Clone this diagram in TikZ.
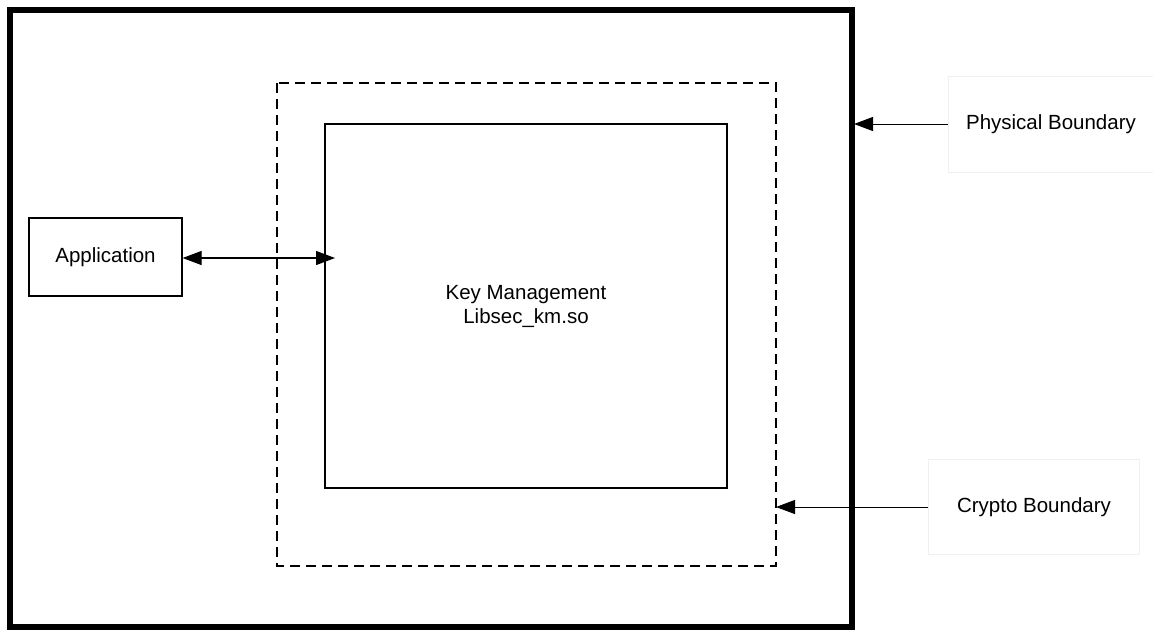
\documentclass[tikz,border=0pt]{standalone}
\usepackage{fontspec}
\setmainfont{Liberation Sans}
\usetikzlibrary{arrows.meta}
\begin{document}
\begin{tikzpicture}[x=1pt,y=-1pt,
  lbl/.style={font=\fontsize{20.5}{24}\selectfont, align=center},
  faint/.style={draw=black!6, line width=0.8pt},
  tip/.style={-{Triangle[length=19pt,width=14pt]}, line width=1pt},
  dtip/.style={{Triangle[length=19pt,width=14pt]}-{Triangle[length=19pt,width=14pt]}, line width=1.2pt}]
\useasboundingbox (0,0) rectangle (1153,633);
% outer physical boundary
\draw[line width=5.5pt] (10,10) rectangle (852,627);
% crypto boundary
\draw[line width=1.2pt, dash pattern=on 10pt off 6pt] (277,83) rectangle (776,566);
% key management
\node[draw, line width=1.2pt, minimum width=402pt, minimum height=364pt, lbl] (km) at (526,306) {Key Management\\Libsec\_km.so};
% application
\node[draw, line width=1.2pt, minimum width=153pt, minimum height=78pt, lbl] (app) at (105.5,257) {Application};
\coordinate (kmin) at (335,258);
\draw[dtip] (app.east |- kmin) -- (kmin);
% labels
\node[faint, minimum width=205pt, minimum height=96pt, lbl] (phys) at (1051,124) {Physical Boundary};
\node[faint, minimum width=211pt, minimum height=95pt, lbl] (cryp) at (1034,507) {Crypto Boundary};
\coordinate (physend) at (854,124);
\coordinate (crypend) at (776,507);
\draw[tip] (phys.west) -- (physend);
\draw[tip] (cryp.west) -- (crypend);
\end{tikzpicture}
\end{document}
